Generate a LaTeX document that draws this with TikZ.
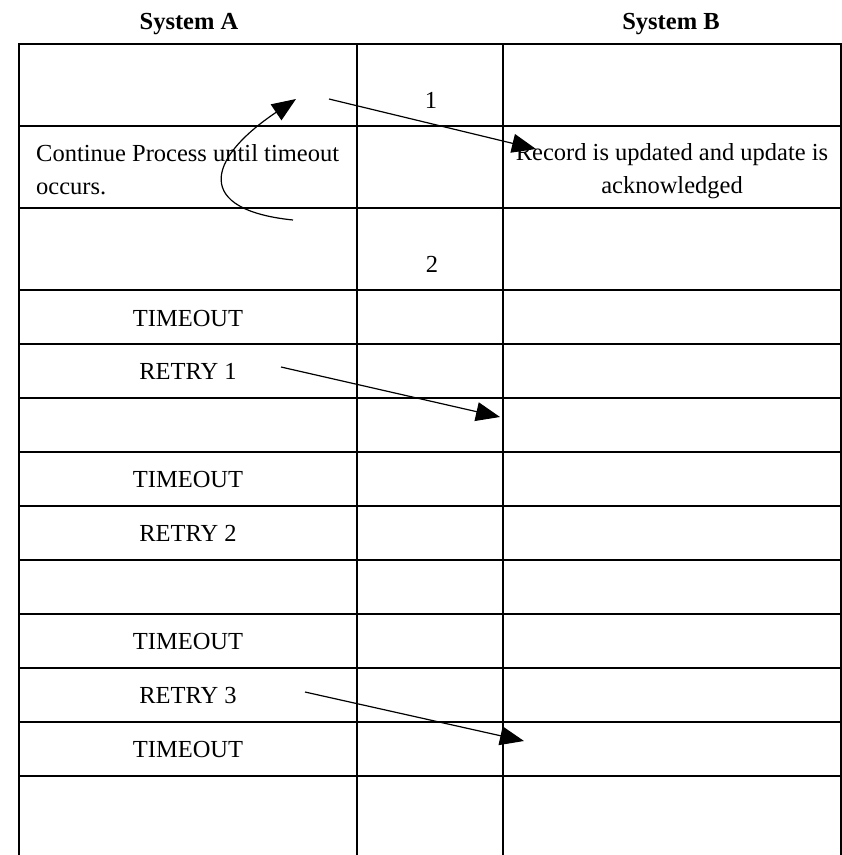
\documentclass[tikz,border=0pt]{standalone}
\usepackage{fontspec}
\setmainfont{Liberation Serif}
\usetikzlibrary{arrows.meta}
\begin{document}
\begin{tikzpicture}[x=1pt,y=-1pt,
  tablerule/.style={line width=1.7pt},
  celltext/.style={font=\fontsize{24.5}{33}\selectfont, inner sep=0pt, anchor=base},
  headtext/.style={celltext, font=\fontsize{24.5}{33}\selectfont\bfseries},
  msg/.style={line width=1.2pt, -{Triangle[length=24pt,width=19pt]}},
]
\useasboundingbox (0,0) rectangle (842,855);

% table frame and columns
\draw[tablerule] (19,855) -- (19,44) -- (841,44) -- (841,855);
\draw[tablerule] (357,44) -- (357,855);
\draw[tablerule] (503,44) -- (503,855);
% row separators
\foreach \yy in {126,208,290,344,398,452,506,560,614,668,722,776}
  \draw[tablerule] (19,\yy) -- (841,\yy);

% column headings
\node[headtext] (hA) at (189,29) {System A};
\node[headtext] (hB) at (671,29) {System B};

% step numbers
\node[celltext] (n1) at (431,108) {1};
\node[celltext] (n2) at (432,272) {2};

% cell texts (base anchor sits on the last line)
\node[celltext, anchor=base west, align=left] (cont) at (36,194)
  {Continue Process until timeout\\occurs.};
\node[celltext, align=center] (rec) at (672,193)
  {Record is updated and update is\\acknowledged};
\node[celltext] (to1) at (188,326) {TIMEOUT};
\node[celltext] (r1)  at (188,379) {RETRY 1};
\node[celltext] (to2) at (188,487) {TIMEOUT};
\node[celltext] (r2)  at (188,541) {RETRY 2};
\node[celltext] (to3) at (188,649) {TIMEOUT};
\node[celltext] (r3)  at (188,703) {RETRY 3};
\node[celltext] (to4) at (188,757) {TIMEOUT};

% message end points
\coordinate (m1s) at (329,99);
\coordinate (m1e) at (536,149);
\coordinate (lps) at (293,220);
\coordinate (lpe) at (296,99);
\coordinate (m2s) at (281,367);
\coordinate (m2e) at (500,417);
\coordinate (m3s) at (305,692);
\coordinate (m3e) at (524,741);

% messages
\draw[msg] (m1s) -- (m1e);
\draw[msg] (lps) .. controls (195,210) and (205,160) .. (lpe);
\draw[msg] (m2s) -- (m2e);
\draw[msg] (m3s) -- (m3e);
\end{tikzpicture}
\end{document}
